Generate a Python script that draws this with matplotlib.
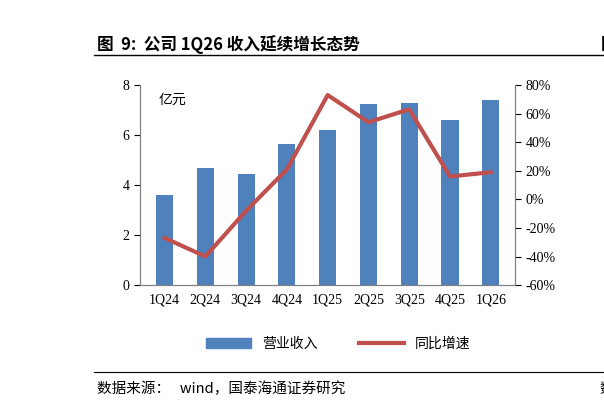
import matplotlib
matplotlib.use("Agg")
import matplotlib.pyplot as plt
from matplotlib.lines import Line2D
from matplotlib.patches import Patch

plt.rcParams['font.family'] = ['Liberation Serif', 'Noto Sans CJK SC']

categories = ["1Q24", "2Q24", "3Q24", "4Q24", "1Q25", "2Q25", "3Q25", "4Q25", "1Q26"]
revenue = [3.6, 4.7, 4.45, 5.65, 6.2, 7.25, 7.3, 6.6, 7.4]
yoy = [-27, -40, -8, 21, 73, 54, 63, 16, 19]
left_ticks = [0, 2, 4, 6, 8]
right_ticks = [-60, -40, -20, 0, 20, 40, 60, 80]

fig = plt.figure(figsize=(6.04, 4.09), dpi=100)
ax = fig.add_axes([0.232, 0.303, 0.621, 0.489])
x = range(len(categories))
ax.bar(x, revenue, width=0.42, color="#4f81bd", zorder=2)
ax.set_ylim(0, 8)
ax.set_yticks(left_ticks)
ax.set_xticks(list(x))
ax.set_xticklabels(categories, fontsize=10)
ax.set_xlim(-0.6, len(categories) - 0.4)
ax.tick_params(axis='y', labelsize=10, direction='out', length=4)
ax.tick_params(axis='x', length=0, pad=6)
ax.text(-0.15, 7.7, "亿元", fontsize=10, family=['Noto Sans CJK SC'], va='top')

ax2 = ax.twinx()
ax2.plot(x, yoy, color="#c0504d", lw=3, zorder=3)
ax2.set_ylim(-60, 80)
ax2.set_yticks(right_ticks)
ax2.set_yticklabels([f"{t}%" for t in right_ticks], fontsize=10)
ax2.tick_params(axis='y', direction='out', length=4)
for a in (ax, ax2):
    a.spines['top'].set_visible(False)
    for s in a.spines.values():
        s.set_color("#808080")

handles = [Patch(color="#4f81bd"), Line2D([], [], color="#c0504d", lw=3)]
fig.legend(handles, ["营业收入", "同比增速"], loc='center', bbox_to_anchor=(0.56, 0.16),
           ncol=2, frameon=False, prop={'family': 'Noto Sans CJK SC', 'size': 10},
           handlelength=3.2, columnspacing=3)

fig.text(0.16, 0.89, "图  9:  公司 1Q26 收入延续增长态势", fontsize=12, weight='bold',
         family=['Noto Sans CJK SC'], va='center')
fig.text(0.995, 0.89, "图", fontsize=12, weight='bold', family=['Noto Sans CJK SC'], va='center')
fig.add_artist(Line2D([0.155, 1.0], [0.865, 0.865], color='black', lw=1))
fig.add_artist(Line2D([0.155, 1.0], [0.09, 0.09], color='black', lw=0.8))
fig.text(0.16, 0.05, "数据来源：   wind，国泰海通证券研究", fontsize=10.5,
         family=['Noto Sans CJK SC'], va='center')
fig.text(0.993, 0.05, "数", fontsize=10.5, family=['Noto Sans CJK SC'], va='center')
fig.savefig("out.png", dpi=100)
